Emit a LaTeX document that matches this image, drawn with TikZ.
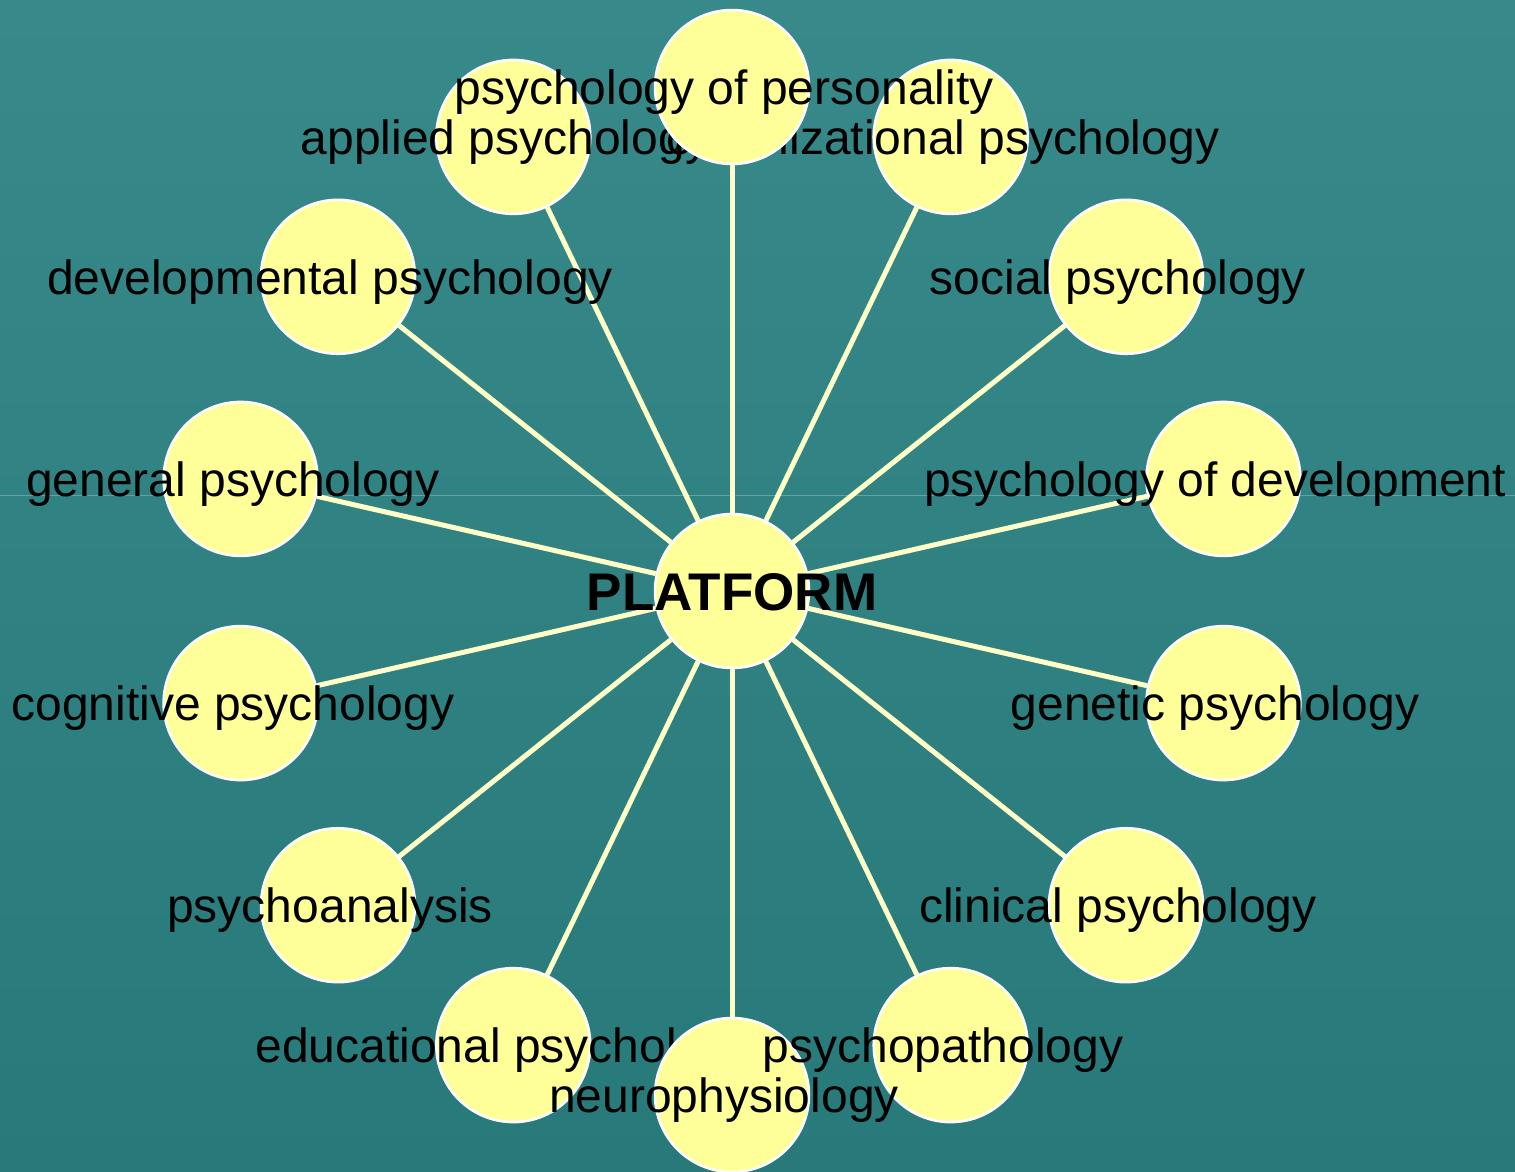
\documentclass[tikz,border=0pt]{standalone}
\usepackage{fontspec}
\setmainfont{Liberation Sans}
\definecolor{bgtop}{RGB}{56,138,138}
\definecolor{bgbot}{RGB}{40,122,122}
\definecolor{bubblefill}{RGB}{255,255,153}
\definecolor{spokecol}{RGB}{255,255,200}
\pgfdeclarelayer{bg}
\pgfdeclarelayer{spk}
\pgfdeclarelayer{tone}
\pgfdeclarelayer{ttwo}
\pgfdeclarelayer{tthree}
\pgfsetlayers{bg,spk,main,tone,ttwo,tthree}
\tikzset{
  bubble/.style={circle, fill=bubblefill, draw=white, line width=2.5pt, minimum size=154pt, inner sep=0pt},
  spoke/.style={draw=spokecol, line width=5pt},
  lbl/.style={anchor=base, inner sep=0pt, text=black, font=\fontsize{48}{56}\selectfont},
  hublbl/.style={anchor=base, inner sep=0pt, text=black, font=\fontsize{53}{60}\selectfont\bfseries}
}
\begin{document}
\begin{tikzpicture}[x=1pt,y=-1pt]
\useasboundingbox (0,0) rectangle (1515,1171);
\begin{pgfonlayer}{bg}
  \shade[top color=bgtop, bottom color=bgbot] (0,0) rectangle (1515,1171);
  \draw[white, opacity=0.25, line width=0.8pt] (0,495) -- (1515,495);
\end{pgfonlayer}

% regular bubbles
\node[bubble] (hub) at (732,591) {};
\node[bubble] (org) at (950.7,136.9) {};
\node[bubble] (app) at (513.3,136.9) {};
\node[bubble] (soc) at (1126,276.8) {};
\node[bubble] (dvl) at (338,276.8) {};
\node[bubble] (pdv) at (1223.4,478.9) {};
\node[bubble] (gen) at (240.6,478.9) {};
\node[bubble] (gnt) at (1223.4,703.1) {};
\node[bubble] (cog) at (240.6,703.1) {};
\node[bubble] (cln) at (1126,905.2) {};
\node[bubble] (psa) at (338,905.2) {};
\node[bubble] (pth) at (950.7,1045.1) {};
\node[bubble] (edu) at (513.3,1045.1) {};

\begin{pgfonlayer}{tone}
  \node[lbl] (lapp) at (505,154) {applied psychology};
  \node[lbl] (lorg) at (943,154) {organizational psychology};
  \node[lbl] (ledu) at (505,1062) {educational psychology};
\end{pgfonlayer}

\begin{pgfonlayer}{ttwo}
  \node[bubble] (per) at (732,87) {};
  \node[bubble] (neu) at (732,1095) {};
\end{pgfonlayer}

\begin{pgfonlayer}{tthree}
  \node[lbl] (lper) at (724,104) {psychology of personality};
  \node[lbl] (lsoc) at (1118,294) {social psychology};
  \node[lbl] (ldvl) at (330,294) {developmental psychology};
  \node[lbl] (lpdv) at (1215,496) {psychology of development};
  \node[lbl] (lgen) at (233,496) {general psychology};
  \node[lbl] (lgnt) at (1215,720) {genetic psychology};
  \node[lbl] (lcog) at (233,720) {cognitive psychology};
  \node[lbl] (lcln) at (1118,922) {clinical psychology};
  \node[lbl] (lpsa) at (330,922) {psychoanalysis};
  \node[lbl] (lpth) at (943,1062) {psychopathology};
  \node[lbl] (lneu) at (724,1112) {neurophysiology};
  \node[hublbl] (lhub) at (732,610) {PLATFORM};
\end{pgfonlayer}

\begin{pgfonlayer}{spk}
  \foreach \n in {per,org,app,soc,dvl,pdv,gen,gnt,cog,cln,psa,pth,edu,neu}
    \draw[spoke] (hub) -- (\n);
\end{pgfonlayer}
\end{tikzpicture}
\end{document}
